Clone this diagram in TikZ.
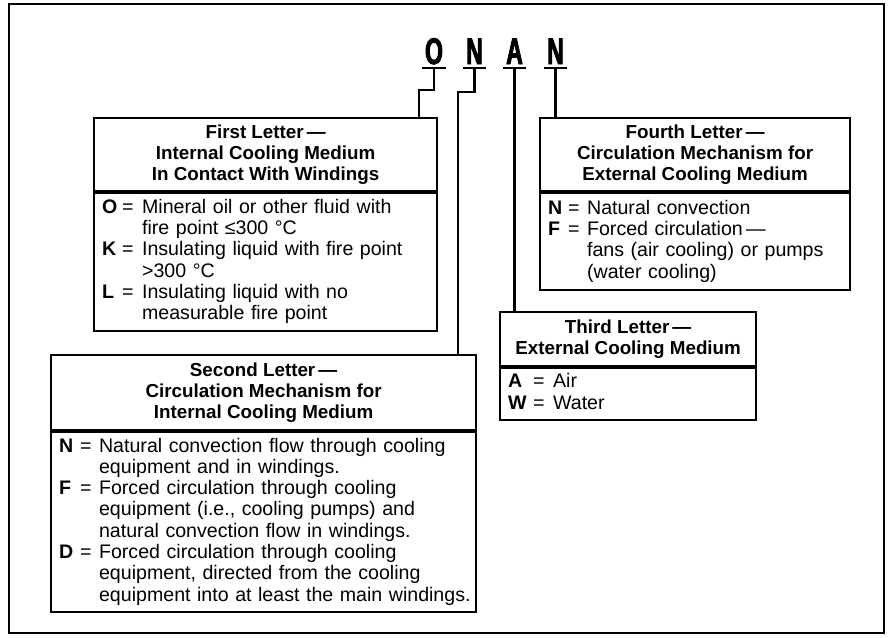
\documentclass[tikz,border=0pt]{standalone}
\usepackage{fontspec}
\setmainfont{Liberation Sans}
\newfontfamily\bodyfont{Liberation Sans}
\newfontfamily\onanfont[FakeStretch=0.62,FakeBold=2.5]{Liberation Sans}
\begin{document}
\begin{tikzpicture}[x=1pt,y=-1pt,
  frame/.style={draw, line width=2.2pt},
  conn/.style={draw, line width=2.2pt},
  uline/.style={draw, line width=2.2pt},
  letter/.style={font=\onanfont\fontsize{37}{37}\selectfont\bfseries, inner sep=0pt, minimum width=23pt, anchor=base},
  hdr/.style={draw, line width=2.2pt, inner sep=0pt, align=center, anchor=north west,
    font=\fontsize{18.8}{21.3}\selectfont\bfseries},
  bdy/.style={draw, line width=2.2pt, inner xsep=8pt, inner ysep=0pt, align=left, anchor=north west,
    font=\bodyfont\fontsize{19.6}{21.3}\selectfont}
]
\useasboundingbox (0,0) rectangle (893,637);
\draw[frame] (9,4) rectangle (884,633);

% code letters
\node[letter] (L1) at (434,64) {O};
\node[letter] (L2) at (474.5,64) {N};
\node[letter] (L3) at (514.5,64) {A};
\node[letter] (L4) at (555.5,64) {N};
\foreach \n in {L1,L2,L3,L4}{
  \draw[uline] ([yshift=-4pt]\n.base west) -- ([yshift=-4pt]\n.base east);
}
\coordinate (u1) at ([yshift=-4pt]L1.base);
\coordinate (u2) at ([yshift=-4pt]L2.base);
\coordinate (u3) at ([yshift=-4pt]L3.base);
\coordinate (u4) at ([yshift=-4pt]L4.base);

% First letter box
\node[hdr, minimum width=343pt, minimum height=73pt] (h1) at (93,117)
  {First Letter\thinspace—\\Internal Cooling Medium\\In Contact With Windings};
\node[bdy, minimum width=343pt, minimum height=138pt, text width=327pt] (b1) at (h1.south west)
  {\noindent\begin{tabular}{@{}p{20pt}@{}p{20pt}@{}l@{}}
  \textbf{O} & = & Mineral oil or other fluid with\\
   & & fire point ≤300~°C\\
  \textbf{K} & = & Insulating liquid with fire point\\
   & & >300~°C\\
  \textbf{L} & = & Insulating liquid with no\\
   & & measurable fire point
  \end{tabular}};

% Fourth letter box
\node[hdr, minimum width=310pt, minimum height=73pt] (h4) at (539,117)
  {Fourth Letter\thinspace—\\Circulation Mechanism for\\External Cooling Medium};
\node[bdy, minimum width=310pt, minimum height=97pt, text width=294pt] (b4) at (h4.south west)
  {\noindent\begin{tabular}{@{}p{20pt}@{}p{19pt}@{}l@{}}
  \textbf{N} & = & Natural convection\\
  \textbf{F} & = & Forced circulation\thinspace—\\
   & & fans (air cooling) or pumps\\
   & & (water cooling)
  \end{tabular}};

% Third letter box
\node[hdr, minimum width=256pt, minimum height=54pt] (h3) at (499,311)
  {Third Letter\thinspace—\\External Cooling Medium};
\node[bdy, minimum width=256pt, minimum height=52pt, text width=240pt] (b3) at (h3.south west)
  {\noindent\begin{tabular}{@{}p{25pt}@{}p{20pt}@{}l@{}}
  \textbf{A} & = & Air\\
  \textbf{W} & = & Water
  \end{tabular}};

% Second letter box
\node[hdr, minimum width=425pt, minimum height=75pt] (h2) at (50,354)
  {Second Letter\thinspace—\\Circulation Mechanism for\\Internal Cooling Medium};
\node[bdy, minimum width=425pt, minimum height=180pt, text width=409pt] (b2) at (h2.south west)
  {\noindent\begin{tabular}{@{}p{21pt}@{}p{19pt}@{}l@{}}
  \textbf{N} & = & Natural convection flow through cooling\\
   & & equipment and in windings.\\
  \textbf{F} & = & Forced circulation through cooling\\
   & & equipment (i.e., cooling pumps) and\\
   & & natural convection flow in windings.\\
  \textbf{D} & = & Forced circulation through cooling\\
   & & equipment, directed from the cooling\\
   & & equipment into at least the main windings.
  \end{tabular}};

% connectors
\coordinate (j1) at (419,90);
\coordinate (j2) at (458,92);
\draw[conn] (u1) -- (u1 |- j1) -- (j1) -- (j1 |- h1.north);
\draw[conn] (u2) -- (u2 |- j2) -- (j2) -- (j2 |- h2.north);
\draw[conn] (u3) -- (u3 |- h3.north);
\draw[conn] (u4) -- (u4 |- h4.north);
\end{tikzpicture}
\end{document}
